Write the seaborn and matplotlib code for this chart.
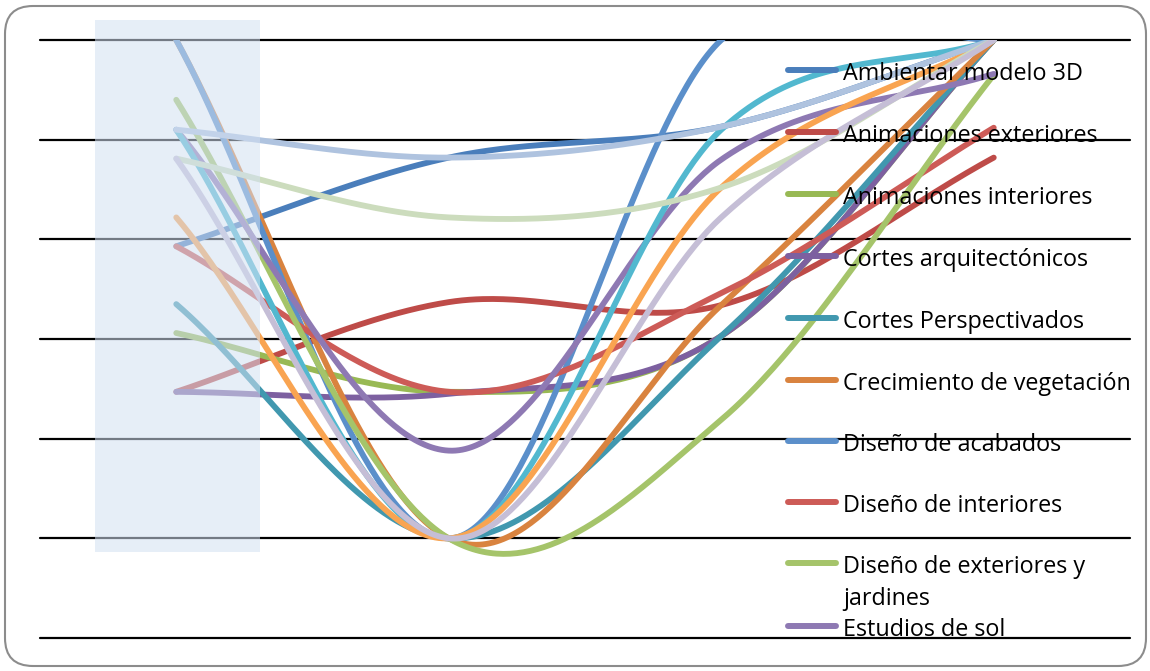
import numpy as np
import pandas as pd
import seaborn as sns
import matplotlib
matplotlib.use("Agg")
import matplotlib.pyplot as plt
from matplotlib.patches import FancyBboxPatch, Rectangle
from matplotlib.lines import Line2D
from matplotlib.transforms import IdentityTransform

# ---- data -------------------------------------------------------------
etapas = [0, 1, 2, 3]

series = [
    "Ambientar modelo 3D",
    "Animaciones exteriores",
    "Animaciones interiores",
    "Cortes arquitectónicos",
    "Cortes Perspectivados",
    "Crecimiento de vegetación",
    "Diseño de acabados",
    "Diseño de interiores",
    "Diseño de exteriores y jardines",
    "Estudios de sol",
    "Serie 11",
    "Serie 12",
    "Serie 13",
    "Serie 14",
    "Serie 15",
]

ambientar_modelo_3d = [3.93, 4.82, 5.13, 6.00]
animaciones_exteriores = [2.47, 3.37, 3.34, 4.82]
animaciones_interiores = [3.06, 2.47, 3.03, 6.00]
cortes_arquitectonicos = [2.47, 2.45, 3.03, 6.00]
cortes_perspectivados = [3.35, 1.00, 3.03, 6.00]
crecimiento_vegetacion = [6.00, 1.00, 3.34, 6.00]
diseno_acabados = [6.00, 1.00, 6.00, 6.00]
diseno_interiores = [3.93, 2.47, 3.46, 5.12]
diseno_exteriores = [5.40, 1.00, 2.19, 5.65]
estudios_sol = [5.10, 1.88, 4.80, 5.66]
serie_11 = [5.10, 1.00, 5.10, 6.00]
serie_12 = [4.22, 1.00, 4.52, 6.00]
serie_13 = [5.10, 4.82, 5.13, 6.00]
serie_14 = [4.81, 4.22, 4.52, 6.00]
serie_15 = [4.81, 1.00, 4.22, 6.00]

valores = [
    ambientar_modelo_3d, animaciones_exteriores, animaciones_interiores,
    cortes_arquitectonicos, cortes_perspectivados, crecimiento_vegetacion,
    diseno_acabados, diseno_interiores, diseno_exteriores, estudios_sol,
    serie_11, serie_12, serie_13, serie_14, serie_15,
]

colores = [
    "#4A7EBB", "#BE4B48", "#98B954", "#7D60A0", "#4198AF", "#D9833F",
    "#5B8FCA", "#CD5B57", "#A5C46A", "#8E79B3", "#52B8CF", "#F9A451",
    "#AFC3DF", "#CCDCBD", "#C5BED6",
]

legend_count = 10


def smooth_curve(xs, ys, n=80):
    """Cubic Hermite (Catmull-Rom style) smoothing like spreadsheet smooth lines."""
    x = np.asarray(xs, float)
    y = np.asarray(ys, float)
    k = len(y)
    m = np.empty(k)
    m[1:-1] = (y[2:] - y[:-2]) / 2.0
    m[0] = y[1] - y[0]
    m[-1] = y[-1] - y[-2]
    out_x, out_y = [], []
    for i in range(k - 1):
        t = np.linspace(0, 1, n, endpoint=(i == k - 2))
        h00 = 2 * t**3 - 3 * t**2 + 1
        h10 = t**3 - 2 * t**2 + t
        h01 = -2 * t**3 + 3 * t**2
        h11 = t**3 - t**2
        out_x.append(x[i] + t * (x[i + 1] - x[i]))
        out_y.append(h00 * y[i] + h10 * m[i] + h01 * y[i + 1] + h11 * m[i + 1])
    return np.concatenate(out_x), np.concatenate(out_y)


frames = []
for name, vals in zip(series, valores):
    sx, sy = smooth_curve(etapas, vals)
    frames.append(pd.DataFrame({"etapa": sx, "valor": sy, "serie": name}))
df = pd.concat(frames, ignore_index=True)

# ---- figure -----------------------------------------------------------
sns.set_theme(style="white")
plt.rcParams["font.family"] = ["Open Sans", "DejaVu Sans"]

W, H = 1150, 671
fig = plt.figure(figsize=(W / 100, H / 100), dpi=100)
ax = fig.add_axes([40 / W, 33 / H, 1090 / W, 598 / H])

for g in range(7):
    ax.axhline(g, color="black", lw=1.6, zorder=0.5, clip_on=False)

sns.lineplot(
    data=df, x="etapa", y="valor", hue="serie", hue_order=series,
    palette=dict(zip(series, colores)), sort=False, estimator=None,
    legend=False, linewidth=4.2, ax=ax, solid_capstyle="round",
)

ax.set_xlim(-0.5, 3.5)
ax.set_ylim(0, 6)
ax.set_xticks([])
ax.set_yticks([])
ax.set_xlabel("")
ax.set_ylabel("")
for s in ax.spines.values():
    s.set_visible(False)

# translucent highlight band over the first stage
ax.add_patch(Rectangle((-0.297, 0.863), 0.605, 5.337,
                       facecolor=(210 / 255, 224 / 255, 242 / 255), alpha=0.55,
                       linewidth=0, zorder=5, clip_on=False))

# ---- legend (first entries only) --------------------------------------
leg_y = [70, 132, 194, 256, 318, 380, 441, 502, 563, 626]
fs = 16.8
for i in range(legend_count):
    fy = 1 - leg_y[i] / H
    fig.add_artist(Line2D([788 / W, 836 / W], [fy, fy], color=colores[i], lw=4.3,
                          solid_capstyle="round", transform=fig.transFigure, zorder=6))
    label = series[i]
    if label == "Diseño de exteriores y jardines":
        fig.text(843 / W, 1 - (leg_y[i] + 10) / H, "Diseño de exteriores y",
                 fontsize=fs, va="baseline", ha="left", color="black", zorder=7)
        fig.text(843 / W, 1 - (leg_y[i] + 42) / H, "jardines",
                 fontsize=fs, va="baseline", ha="left", color="black", zorder=7)
    else:
        fig.text(843 / W, 1 - (leg_y[i] + 10) / H, label,
                 fontsize=fs, va="baseline", ha="left", color="black", zorder=7)

# rounded outer frame
fig.add_artist(FancyBboxPatch((5, 5), 1141, 660,
                              boxstyle="round,pad=0,rounding_size=28",
                              transform=IdentityTransform(), fill=False,
                              edgecolor="#8c8c8c", linewidth=1.5, zorder=8))

fig.savefig("out.png", dpi=100)
